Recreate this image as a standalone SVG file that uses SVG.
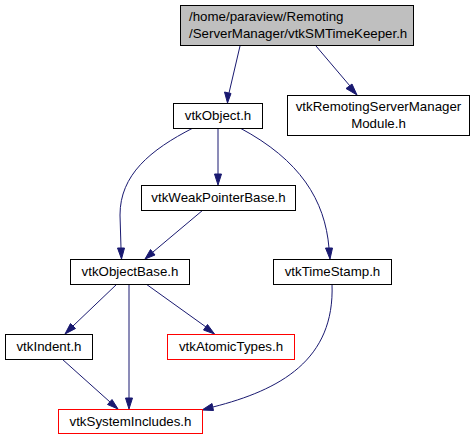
<svg xmlns="http://www.w3.org/2000/svg" width="475" height="440" viewBox="0 0 475 440">
<defs>
<style>
.n rect{fill:#ffffff;stroke:#000000;stroke-width:1}
.n.r rect{stroke:#ff0000}
.n.g rect{fill:#bfbfbf;stroke:#000000}
text{font-family:"Liberation Sans",Arial,sans-serif;font-size:13.3px;fill:#000;text-anchor:middle}
.n.g text{text-anchor:start}
.e path{fill:none;stroke:#191970;stroke-width:1}
.e polygon{fill:#191970;stroke:#191970}
</style>
</defs>
<rect width="475" height="440" fill="#ffffff"/>
<g id="edges" class="e">
<path d="M240,46 L229,93"/><polygon points="224.5,92 227.5,103 231,93.5"/>
<path d="M316,46 L350,86"/><polygon points="346,88.5 357,95 352,84"/>
<path d="M193,128 C150,150 120,175 120,215 L121,248"/><polygon points="117.5,248 121.5,259 124.5,248"/>
<path d="M218,128 L218,174"/><polygon points="214.5,174 218,185 221.5,174"/>
<path d="M240,128 C300,160 325,200 329,248"/><polygon points="325.5,248 330,259 332.5,248"/>
<path d="M203,210 L153,252"/><polygon points="150.5,249.5 145,259 155,255"/>
<path d="M117,284 L73,326"/><polygon points="70.5,323.5 65,334 75.5,328.5"/>
<path d="M129,284 L129,398"/><polygon points="125.5,398 129,409 132.5,398"/>
<path d="M146,284 L206,327"/><polygon points="203.5,330 214.5,334 207.5,324.5"/>
<path d="M62,359 L110,402"/><polygon points="107.5,404.5 118,409 112,399.5"/>
<path d="M332,284 C335,360 280,390 213,407"/><polygon points="212,403.5 202,410 213.5,410.5"/>
</g>
<g id="node_top" class="n g"><rect x="180.5" y="5.5" width="233" height="40"/><text x="189" y="21">/home/paraview/Remoting</text><text x="189" y="38">/ServerManager/vtkSMTimeKeeper.h</text></g>
<g id="node_vtkObject" class="n"><rect x="173.5" y="103.5" width="89" height="25"/><text x="218" y="120">vtkObject.h</text></g>
<g id="node_module" class="n"><rect x="287.5" y="95.5" width="182" height="40"/><text x="378.5" y="111">vtkRemotingServerManager</text><text x="378.5" y="128">Module.h</text></g>
<g id="node_weak" class="n"><rect x="141.5" y="185.5" width="154" height="25"/><text x="218.5" y="202">vtkWeakPointerBase.h</text></g>
<g id="node_objectbase" class="n"><rect x="70.5" y="259.5" width="119" height="25"/><text x="130" y="276">vtkObjectBase.h</text></g>
<g id="node_timestamp" class="n"><rect x="273.5" y="259.5" width="118" height="25"/><text x="332.5" y="276">vtkTimeStamp.h</text></g>
<g id="node_indent" class="n"><rect x="5.5" y="334.5" width="87" height="25"/><text x="49" y="351">vtkIndent.h</text></g>
<g id="node_atomic" class="n r"><rect x="167.5" y="334.5" width="127" height="25"/><text x="231" y="351">vtkAtomicTypes.h</text></g>
<g id="node_sysinc" class="n r"><rect x="58.5" y="409.5" width="144" height="24"/><text x="130.5" y="426">vtkSystemIncludes.h</text></g>
</svg>
